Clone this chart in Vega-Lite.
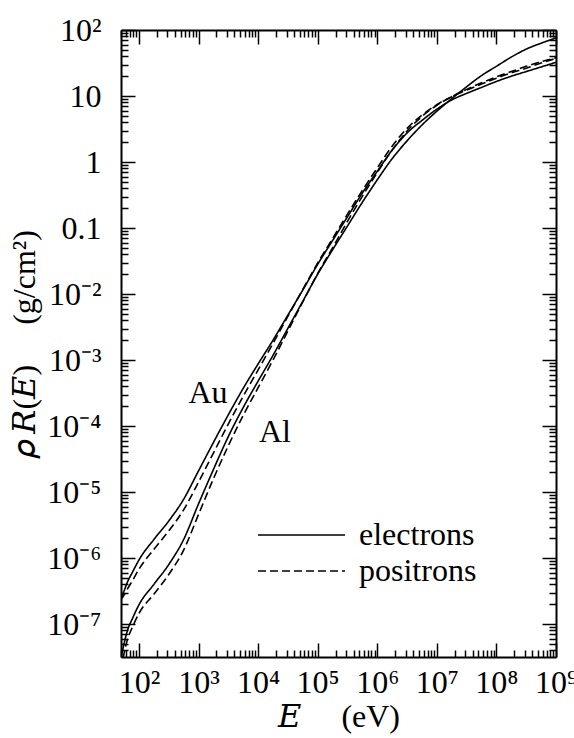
{
  "$schema": "https://vega.github.io/schema/vega-lite/v6.json",
  "width": 435,
  "height": 627,
  "autosize": {"type": "none"},
  "padding": {"left": 121, "top": 30, "right": 18, "bottom": 81},
  "background": "white",
  "config": {
    "view": {"stroke": null},
    "font": "Liberation Serif",
    "axis": {
      "grid": false,
      "domainColor": "black",
      "domainWidth": 2,
      "tickColor": "black",
      "tickWidth": 1.5,
      "labelColor": "black",
      "titleColor": "black",
      "labelFont": "Liberation Serif",
      "titleFont": "'Liberation Serif', 'DejaVu Serif', serif",
      "labelFontSize": 32,
      "titleFontSize": 32,
      "titleFontWeight": "normal",
      "labelOverlap": false,
      "labelFlush": false,
      "labelBound": false
    }
  },
  "datasets": {
    "curves": [
      {"E":50,"R":2.512e-7,"s":"Au e-","p":"electrons"},
      {"E":56.23,"R":3.162e-7,"s":"Au e-","p":"electrons"},
      {"E":63.1,"R":4.169e-7,"s":"Au e-","p":"electrons"},
      {"E":79.43,"R":6.310e-7,"s":"Au e-","p":"electrons"},
      {"E":100,"R":9.333e-7,"s":"Au e-","p":"electrons"},
      {"E":177.8,"R":1.905e-6,"s":"Au e-","p":"electrons"},
      {"E":316.2,"R":3.631e-6,"s":"Au e-","p":"electrons"},
      {"E":562.3,"R":7.762e-6,"s":"Au e-","p":"electrons"},
      {"E":1000,"R":2.089e-5,"s":"Au e-","p":"electrons"},
      {"E":1778,"R":5.623e-5,"s":"Au e-","p":"electrons"},
      {"E":3162,"R":1.479e-4,"s":"Au e-","p":"electrons"},
      {"E":5623,"R":3.715e-4,"s":"Au e-","p":"electrons"},
      {"E":10000,"R":8.710e-4,"s":"Au e-","p":"electrons"},
      {"E":17780,"R":1.995e-3,"s":"Au e-","p":"electrons"},
      {"E":31620,"R":4.786e-3,"s":"Au e-","p":"electrons"},
      {"E":56230,"R":1.148e-2,"s":"Au e-","p":"electrons"},
      {"E":100000,"R":2.818e-2,"s":"Au e-","p":"electrons"},
      {"E":177800,"R":6.457e-2,"s":"Au e-","p":"electrons"},
      {"E":316200,"R":0.1479,"s":"Au e-","p":"electrons"},
      {"E":562300,"R":0.3388,"s":"Au e-","p":"electrons"},
      {"E":1000000,"R":0.7244,"s":"Au e-","p":"electrons"},
      {"E":1778000,"R":1.514,"s":"Au e-","p":"electrons"},
      {"E":3162000,"R":2.754,"s":"Au e-","p":"electrons"},
      {"E":5623000,"R":4.266,"s":"Au e-","p":"electrons"},
      {"E":10000000,"R":6.310,"s":"Au e-","p":"electrons"},
      {"E":17780000,"R":8.710,"s":"Au e-","p":"electrons"},
      {"E":31620000,"R":10.96,"s":"Au e-","p":"electrons"},
      {"E":56230000,"R":13.49,"s":"Au e-","p":"electrons"},
      {"E":100000000,"R":16.60,"s":"Au e-","p":"electrons"},
      {"E":177800000,"R":19.95,"s":"Au e-","p":"electrons"},
      {"E":316200000,"R":23.44,"s":"Au e-","p":"electrons"},
      {"E":562300000,"R":27.54,"s":"Au e-","p":"electrons"},
      {"E":1000000000,"R":32.36,"s":"Au e-","p":"electrons"},

      {"E":50,"R":2.344e-7,"s":"Au e+","p":"positrons"},
      {"E":56.23,"R":2.754e-7,"s":"Au e+","p":"positrons"},
      {"E":63.1,"R":3.311e-7,"s":"Au e+","p":"positrons"},
      {"E":79.43,"R":4.677e-7,"s":"Au e+","p":"positrons"},
      {"E":100,"R":6.761e-7,"s":"Au e+","p":"positrons"},
      {"E":177.8,"R":1.349e-6,"s":"Au e+","p":"positrons"},
      {"E":316.2,"R":2.570e-6,"s":"Au e+","p":"positrons"},
      {"E":562.3,"R":5.370e-6,"s":"Au e+","p":"positrons"},
      {"E":1000,"R":1.413e-5,"s":"Au e+","p":"positrons"},
      {"E":1778,"R":3.890e-5,"s":"Au e+","p":"positrons"},
      {"E":3162,"R":1.072e-4,"s":"Au e+","p":"positrons"},
      {"E":5623,"R":2.818e-4,"s":"Au e+","p":"positrons"},
      {"E":10000,"R":7.079e-4,"s":"Au e+","p":"positrons"},
      {"E":17780,"R":1.778e-3,"s":"Au e+","p":"positrons"},
      {"E":31620,"R":4.571e-3,"s":"Au e+","p":"positrons"},
      {"E":56230,"R":1.175e-2,"s":"Au e+","p":"positrons"},
      {"E":100000,"R":2.951e-2,"s":"Au e+","p":"positrons"},
      {"E":177800,"R":6.918e-2,"s":"Au e+","p":"positrons"},
      {"E":316200,"R":0.1622,"s":"Au e+","p":"positrons"},
      {"E":562300,"R":0.3715,"s":"Au e+","p":"positrons"},
      {"E":1000000,"R":0.8128,"s":"Au e+","p":"positrons"},
      {"E":1778000,"R":1.738,"s":"Au e+","p":"positrons"},
      {"E":3162000,"R":3.236,"s":"Au e+","p":"positrons"},
      {"E":5623000,"R":5.129,"s":"Au e+","p":"positrons"},
      {"E":10000000,"R":7.413,"s":"Au e+","p":"positrons"},
      {"E":17780000,"R":9.772,"s":"Au e+","p":"positrons"},
      {"E":31620000,"R":12.30,"s":"Au e+","p":"positrons"},
      {"E":56230000,"R":15.14,"s":"Au e+","p":"positrons"},
      {"E":100000000,"R":18.62,"s":"Au e+","p":"positrons"},
      {"E":177800000,"R":22.39,"s":"Au e+","p":"positrons"},
      {"E":316200000,"R":26.30,"s":"Au e+","p":"positrons"},
      {"E":562300000,"R":31.62,"s":"Au e+","p":"positrons"},
      {"E":1000000000,"R":37.15,"s":"Au e+","p":"positrons"},

      {"E":50,"R":3.020e-8,"s":"Al e-","p":"electrons"},
      {"E":56.23,"R":5.012e-8,"s":"Al e-","p":"electrons"},
      {"E":63.1,"R":7.586e-8,"s":"Al e-","p":"electrons"},
      {"E":79.43,"R":1.259e-7,"s":"Al e-","p":"electrons"},
      {"E":100,"R":1.950e-7,"s":"Al e-","p":"electrons"},
      {"E":177.8,"R":3.981e-7,"s":"Al e-","p":"electrons"},
      {"E":316.2,"R":7.943e-7,"s":"Al e-","p":"electrons"},
      {"E":562.3,"R":1.905e-6,"s":"Al e-","p":"electrons"},
      {"E":1000,"R":6.607e-6,"s":"Al e-","p":"electrons"},
      {"E":1778,"R":2.188e-5,"s":"Al e-","p":"electrons"},
      {"E":3162,"R":6.918e-5,"s":"Al e-","p":"electrons"},
      {"E":5623,"R":1.905e-4,"s":"Al e-","p":"electrons"},
      {"E":10000,"R":4.786e-4,"s":"Al e-","p":"electrons"},
      {"E":17780,"R":1.175e-3,"s":"Al e-","p":"electrons"},
      {"E":31620,"R":3.020e-3,"s":"Al e-","p":"electrons"},
      {"E":56230,"R":7.762e-3,"s":"Al e-","p":"electrons"},
      {"E":100000,"R":1.995e-2,"s":"Al e-","p":"electrons"},
      {"E":177800,"R":4.677e-2,"s":"Al e-","p":"electrons"},
      {"E":316200,"R":0.1072,"s":"Al e-","p":"electrons"},
      {"E":562300,"R":0.2455,"s":"Al e-","p":"electrons"},
      {"E":1000000,"R":0.5370,"s":"Al e-","p":"electrons"},
      {"E":1778000,"R":1.122,"s":"Al e-","p":"electrons"},
      {"E":3162000,"R":2.089,"s":"Al e-","p":"electrons"},
      {"E":5623000,"R":3.631,"s":"Al e-","p":"electrons"},
      {"E":10000000,"R":5.888,"s":"Al e-","p":"electrons"},
      {"E":17780000,"R":9.120,"s":"Al e-","p":"electrons"},
      {"E":31620000,"R":13.80,"s":"Al e-","p":"electrons"},
      {"E":56230000,"R":20.42,"s":"Al e-","p":"electrons"},
      {"E":100000000,"R":28.18,"s":"Al e-","p":"electrons"},
      {"E":177800000,"R":38.90,"s":"Al e-","p":"electrons"},
      {"E":316200000,"R":51.29,"s":"Al e-","p":"electrons"},
      {"E":562300000,"R":63.10,"s":"Al e-","p":"electrons"},
      {"E":1000000000,"R":75.86,"s":"Al e-","p":"electrons"},

      {"E":50,"R":1.995e-8,"s":"Al e+","p":"positrons"},
      {"E":56.23,"R":3.548e-8,"s":"Al e+","p":"positrons"},
      {"E":63.1,"R":5.495e-8,"s":"Al e+","p":"positrons"},
      {"E":79.43,"R":9.333e-8,"s":"Al e+","p":"positrons"},
      {"E":100,"R":1.445e-7,"s":"Al e+","p":"positrons"},
      {"E":177.8,"R":2.818e-7,"s":"Al e+","p":"positrons"},
      {"E":316.2,"R":5.623e-7,"s":"Al e+","p":"positrons"},
      {"E":562.3,"R":1.318e-6,"s":"Al e+","p":"positrons"},
      {"E":1000,"R":4.571e-6,"s":"Al e+","p":"positrons"},
      {"E":1778,"R":1.585e-5,"s":"Al e+","p":"positrons"},
      {"E":3162,"R":5.012e-5,"s":"Al e+","p":"positrons"},
      {"E":5623,"R":1.445e-4,"s":"Al e+","p":"positrons"},
      {"E":10000,"R":3.802e-4,"s":"Al e+","p":"positrons"},
      {"E":17780,"R":1.000e-3,"s":"Al e+","p":"positrons"},
      {"E":31620,"R":2.754e-3,"s":"Al e+","p":"positrons"},
      {"E":56230,"R":7.586e-3,"s":"Al e+","p":"positrons"},
      {"E":100000,"R":2.042e-2,"s":"Al e+","p":"positrons"},
      {"E":177800,"R":5.012e-2,"s":"Al e+","p":"positrons"},
      {"E":316200,"R":0.1259,"s":"Al e+","p":"positrons"},
      {"E":562300,"R":0.3020,"s":"Al e+","p":"positrons"},
      {"E":1000000,"R":0.6918,"s":"Al e+","p":"positrons"},
      {"E":1778000,"R":1.514,"s":"Al e+","p":"positrons"},
      {"E":3162000,"R":2.951,"s":"Al e+","p":"positrons"},
      {"E":5623000,"R":4.898,"s":"Al e+","p":"positrons"},
      {"E":10000000,"R":7.244,"s":"Al e+","p":"positrons"},
      {"E":17780000,"R":9.772,"s":"Al e+","p":"positrons"},
      {"E":31620000,"R":12.59,"s":"Al e+","p":"positrons"},
      {"E":56230000,"R":15.85,"s":"Al e+","p":"positrons"},
      {"E":100000000,"R":19.50,"s":"Al e+","p":"positrons"},
      {"E":177800000,"R":23.44,"s":"Al e+","p":"positrons"},
      {"E":316200000,"R":28.18,"s":"Al e+","p":"positrons"},
      {"E":562300000,"R":33.11,"s":"Al e+","p":"positrons"},
      {"E":1000000000,"R":38.02,"s":"Al e+","p":"positrons"}
    ],
    "labels": [
      {"E":1440,"R":3.16e-4,"t":"Au"},
      {"E":19200,"R":8.1e-5,"t":"Al"}
    ]
  },
  "layer": [
    {
      "data": {"name": "curves"},
      "mark": {"type": "line", "color": "black", "strokeWidth": 1.6, "clip": true, "interpolate": "monotone"},
      "encoding": {
        "x": {
          "field": "E", "type": "quantitative",
          "scale": {"type": "log", "domain": [50, 1000000000], "nice": false},
          "axis": {
            "orient": "bottom",
            "title": "𝐸\u00a0\u00a0\u00a0\u00a0\u00a0(eV)",
            "titlePadding": -4,
            "labelPadding": 24,
            "values": [50,60,70,80,90,100,200,300,400,500,600,700,800,900,1000,2000,3000,4000,5000,6000,7000,8000,9000,10000,20000,30000,40000,50000,60000,70000,80000,90000,100000,200000,300000,400000,500000,600000,700000,800000,900000,1000000,2000000,3000000,4000000,5000000,6000000,7000000,8000000,9000000,10000000,20000000,30000000,40000000,50000000,60000000,70000000,80000000,90000000,100000000,200000000,300000000,400000000,500000000,600000000,700000000,800000000,900000000,1000000000],
            "tickSize": {"condition": {"test": "abs(log(datum.value)/LN10 - round(log(datum.value)/LN10)) < 0.001", "value": -14}, "value": -7},
            "labelExpr": "abs(log(datum.value)/LN10 - round(log(datum.value)/LN10)) < 0.001 ? '10' + ['⁰','¹','²','³','⁴','⁵','⁶','⁷','⁸','⁹'][round(log(datum.value)/LN10)] : ''"
          }
        },
        "y": {
          "field": "R", "type": "quantitative",
          "scale": {"type": "log", "domain": [3.1623e-8, 100], "nice": false},
          "axis": {
            "orient": "left",
            "title": "𝜌\u2009𝑅(𝐸)\u00a0\u00a0\u00a0\u00a0\u00a0(g/cm²)",
            "titlePadding": 5,
            "labelPadding": 34,
            "values": [4e-8,5e-8,6e-8,7e-8,8e-8,9e-8,1e-7,2e-7,3e-7,4e-7,5e-7,6e-7,7e-7,8e-7,9e-7,1e-6,2e-6,3e-6,4e-6,5e-6,6e-6,7e-6,8e-6,9e-6,1e-5,2e-5,3e-5,4e-5,5e-5,6e-5,7e-5,8e-5,9e-5,1e-4,2e-4,3e-4,4e-4,5e-4,6e-4,7e-4,8e-4,9e-4,0.001,0.002,0.003,0.004,0.005,0.006,0.007,0.008,0.009,0.01,0.02,0.03,0.04,0.05,0.06,0.07,0.08,0.09,0.1,0.2,0.3,0.4,0.5,0.6,0.7,0.8,0.9,1,2,3,4,5,6,7,8,9,10,20,30,40,50,60,70,80,90,100],
            "tickSize": {"condition": {"test": "abs(log(datum.value)/LN10 - round(log(datum.value)/LN10)) < 0.001", "value": -14}, "value": -7},
            "labelExpr": "abs(log(datum.value)/LN10 - round(log(datum.value)/LN10)) < 0.001 ? (round(log(datum.value)/LN10) == 2 ? '10²' : round(log(datum.value)/LN10) == 1 ? '10' : round(log(datum.value)/LN10) == 0 ? '1' : round(log(datum.value)/LN10) == -1 ? '0.1' : '10⁻' + ['⁰','¹','²','³','⁴','⁵','⁶','⁷','⁸','⁹'][-round(log(datum.value)/LN10)]) : ''"
          }
        },
        "detail": {"field": "s"},
        "strokeDash": {
          "field": "p", "type": "nominal",
          "scale": {"domain": ["electrons", "positrons"], "range": [[1, 0], [8, 4]]},
          "legend": {
            "orient": "none",
            "legendX": 136,
            "legendY": 493,
            "title": null,
            "padding": 0,
            "symbolType": "stroke",
            "symbolSize": 7569,
            "symbolStrokeWidth": 1.5,
            "symbolStrokeColor": "black",
            "clipHeight": 24,
            "labelOffset": 13,
            "rowPadding": 4,
            "labelFont": "Liberation Serif",
            "labelFontSize": 32,
            "labelColor": "black",
            "labelLimit": 300
          }
        }
      }
    },
    {
      "data": {"name": "curves"},
      "mark": {"type": "line", "opacity": 0},
      "encoding": {
        "x": {
          "field": "E", "type": "quantitative",
          "scale": {"type": "log", "domain": [50, 1000000000], "nice": false},
          "axis": {
            "orient": "top",
            "title": null,
            "labels": false,
            "values": [50,60,70,80,90,100,200,300,400,500,600,700,800,900,1000,2000,3000,4000,5000,6000,7000,8000,9000,10000,20000,30000,40000,50000,60000,70000,80000,90000,100000,200000,300000,400000,500000,600000,700000,800000,900000,1000000,2000000,3000000,4000000,5000000,6000000,7000000,8000000,9000000,10000000,20000000,30000000,40000000,50000000,60000000,70000000,80000000,90000000,100000000,200000000,300000000,400000000,500000000,600000000,700000000,800000000,900000000,1000000000],
            "tickSize": {"condition": {"test": "abs(log(datum.value)/LN10 - round(log(datum.value)/LN10)) < 0.001", "value": -14}, "value": -7}
          }
        },
        "y": {
          "field": "R", "type": "quantitative",
          "scale": {"type": "log", "domain": [3.1623e-8, 100], "nice": false},
          "axis": {
            "orient": "right",
            "title": null,
            "labels": false,
            "values": [4e-8,5e-8,6e-8,7e-8,8e-8,9e-8,1e-7,2e-7,3e-7,4e-7,5e-7,6e-7,7e-7,8e-7,9e-7,1e-6,2e-6,3e-6,4e-6,5e-6,6e-6,7e-6,8e-6,9e-6,1e-5,2e-5,3e-5,4e-5,5e-5,6e-5,7e-5,8e-5,9e-5,1e-4,2e-4,3e-4,4e-4,5e-4,6e-4,7e-4,8e-4,9e-4,0.001,0.002,0.003,0.004,0.005,0.006,0.007,0.008,0.009,0.01,0.02,0.03,0.04,0.05,0.06,0.07,0.08,0.09,0.1,0.2,0.3,0.4,0.5,0.6,0.7,0.8,0.9,1,2,3,4,5,6,7,8,9,10,20,30,40,50,60,70,80,90,100],
            "tickSize": {"condition": {"test": "abs(log(datum.value)/LN10 - round(log(datum.value)/LN10)) < 0.001", "value": -14}, "value": -7}
          }
        },
        "detail": {"field": "s"}
      }
    },
    {
      "data": {"name": "labels"},
      "mark": {"type": "text", "font": "Liberation Serif", "fontSize": 32, "color": "black", "align": "center", "baseline": "middle"},
      "encoding": {
        "x": {"field": "E", "type": "quantitative", "scale": {"type": "log", "domain": [50, 1000000000], "nice": false}, "axis": null},
        "y": {"field": "R", "type": "quantitative", "scale": {"type": "log", "domain": [3.1623e-8, 100], "nice": false}, "axis": null},
        "text": {"field": "t"}
      }
    }
  ],
  "resolve": {"axis": {"x": "independent", "y": "independent"}}
}
